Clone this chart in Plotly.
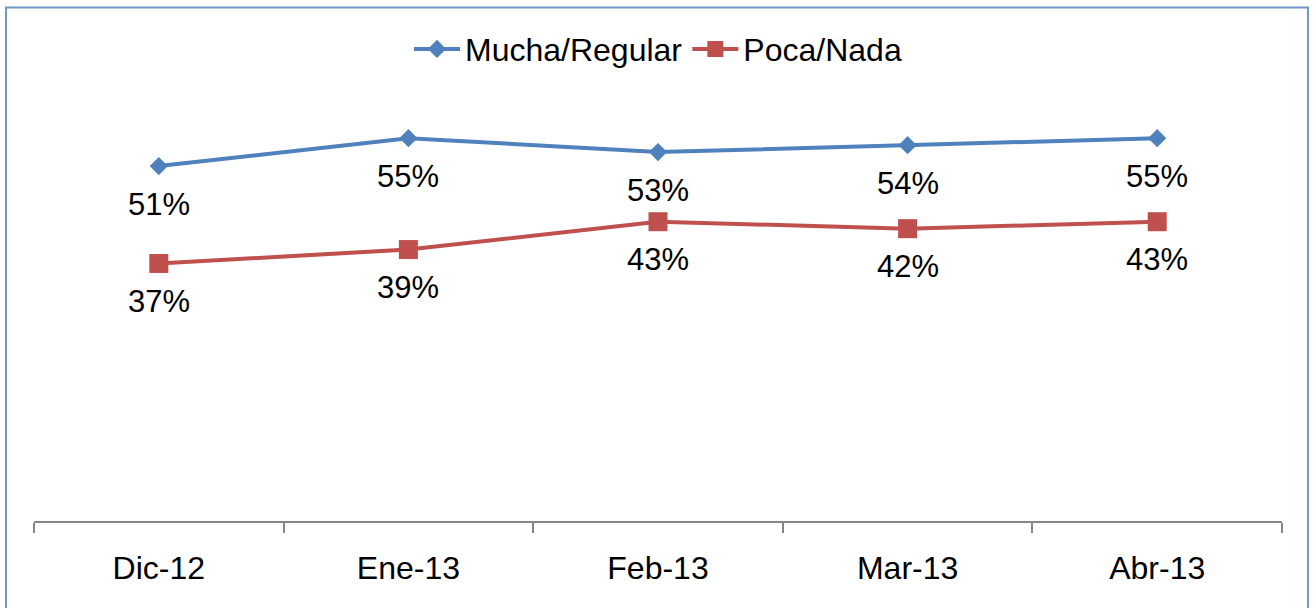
import plotly.graph_objects as go

categories = ["Dic-12", "Ene-13", "Feb-13", "Mar-13", "Abr-13"]
mucha_regular = [51, 55, 53, 54, 55]
poca_nada = [37, 39, 43, 42, 43]

BLUE = "#4F81BD"
RED = "#C0504D"
FONT = "Liberation Sans, Arial, sans-serif"

fig = go.Figure()
fig.add_trace(go.Scatter(
    x=categories, y=mucha_regular, name="Mucha/Regular",
    mode="lines+markers",
    line=dict(color=BLUE, width=4),
    marker=dict(symbol="diamond", size=14, color=BLUE),
))
fig.add_trace(go.Scatter(
    x=categories, y=poca_nada, name="Poca/Nada",
    mode="lines+markers",
    line=dict(color=RED, width=4),
    marker=dict(symbol="square", size=19, color=RED),
))

annotations = []
for series in (mucha_regular, poca_nada):
    for c, v in zip(categories, series):
        annotations.append(dict(
            x=c, y=v, xref="x", yref="y", text=f"{v}%",
            showarrow=False, yshift=-38, yanchor="middle",
            font=dict(family=FONT, size=31, color="#000000"),
        ))

fig.update_layout(
    width=1316, height=608,
    margin=dict(l=34, r=34, t=31, b=87),
    paper_bgcolor="white", plot_bgcolor="white",
    showlegend=True,
    legend=dict(
        orientation="h", x=0.5, xanchor="center", y=0.963, yanchor="middle",
        font=dict(family=FONT, size=32, color="#000000"),
        bgcolor="rgba(0,0,0,0)", itemwidth=46,
    ),
    annotations=annotations,
    shapes=[dict(
        type="rect", xref="paper", yref="paper",
        x0=-0.0224, x1=1.0208, y0=-0.19, y1=1.048,
        line=dict(color="#7196C9", width=2), fillcolor="rgba(0,0,0,0)",
        layer="below",
    )],
)
fig.update_xaxes(
    type="category", range=[-0.5, 4.5],
    showline=True, linecolor="#868686", linewidth=1.5,
    ticks="outside", ticklen=10, tickcolor="#868686", tickwidth=1.5,
    tickson="boundaries", showgrid=False, zeroline=False,
    ticklabelstandoff=18,
    tickfont=dict(family=FONT, size=32, color="#000000"),
)
fig.update_yaxes(
    range=[0, 70.4], visible=False, showgrid=False, zeroline=False,
)

fig.write_html(
    "out.html",
    config={"displayModeBar": False},
    post_script="document.body.style.margin='0px';",
)
